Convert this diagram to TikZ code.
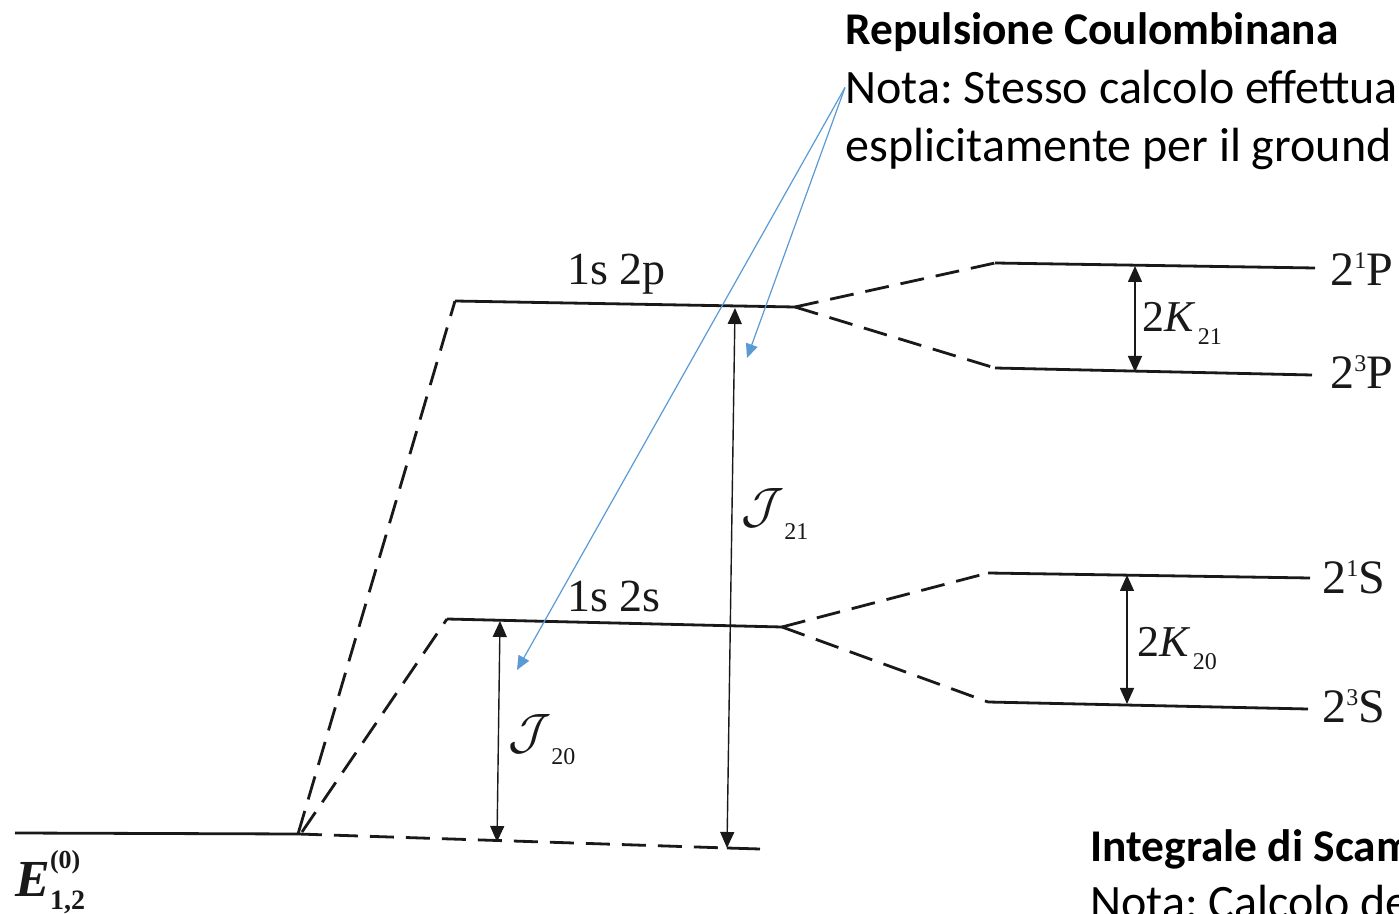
\documentclass[tikz,border=0pt]{standalone}
\usepackage{fontspec}
\setmainfont{Carlito}
\newfontfamily\tms{Liberation Serif}
\usetikzlibrary{arrows.meta}
\definecolor{calloutblue}{RGB}{91,155,213}
\definecolor{ink}{RGB}{25,25,25}
\frenchspacing
\begin{document}
\begin{tikzpicture}[x=0.5pt,y=-0.5pt,
  lvl/.style={line width=1.4pt,draw=ink},
  dsh/.style={line width=1.4pt,draw=ink,dash pattern=on 12pt off 6pt},
  dbl/.style={line width=0.7pt,draw=ink,{Triangle[width=7pt,length=8pt]}-{Triangle[width=7pt,length=8pt]}},
  callout/.style={draw=calloutblue,line width=0.6pt,-{Triangle[width=6pt,length=7pt]}},
  lab/.style={font=\tms\fontsize{23}{27}\selectfont,inner sep=0pt,anchor=base west,text=ink},
  note/.style={font=\fontsize{24}{28}\selectfont,inner sep=0pt,anchor=base west},
  bnote/.style={note,font=\bfseries\fontsize{22.7}{27}\selectfont},
]
\fill[white] (0,0) rectangle (1399,914);
\useasboundingbox (0,0) rectangle (1399,914);
\clip (0,0) rectangle (1399,914);
% ground level
\coordinate (g0) at (15,833);
\coordinate (gA) at (298,834);
\coordinate (gA2) at (302,832);
\coordinate (g20) at (497,842);
\coordinate (gB) at (727,848);
\coordinate (gE) at (760,849);
\draw[lvl] (g0) -- (gA);
\draw[dsh] (gA) -- (gB);
\draw[lvl] (gB) -- (gE);
% 1s2p
\coordinate (pL) at (455,301);
\coordinate (pR) at (795,307);
\draw[dsh] (gA) -- (pL);
\draw[lvl] (pL) -- (pR);
% 1s2s
\coordinate (sL) at (447,619);
\coordinate (sR) at (782,627);
\draw[dsh] (gA2) -- (sL);
\draw[lvl] (sL) -- (sR);
% P splitting
\coordinate (P1L) at (995,263);
\coordinate (P1R) at (1315,268);
\coordinate (P3L) at (995,368);
\coordinate (P3R) at (1312,375);
\draw[dsh] (pR) -- (P1L);
\draw[lvl] (P1L) -- (P1R);
\draw[dsh] (pR) -- (P3L);
\draw[lvl] (P3L) -- (P3R);
% S splitting
\coordinate (S1L) at (988,573);
\coordinate (S1R) at (1310,578);
\coordinate (S3L) at (988,702);
\coordinate (S3R) at (1308,709);
\draw[dsh] (sR) -- (S1L);
\draw[lvl] (S1L) -- (S1R);
\draw[dsh] (sR) -- (S3L);
\draw[lvl] (S3L) -- (S3R);
% arrows
\coordinate (j21t) at (735,308);
\coordinate (j20t) at (500,621);
\coordinate (k21t) at (1135,266);
\coordinate (k21b) at (1135,372);
\coordinate (k20t) at (1127,575);
\coordinate (k20b) at (1127,704);
\draw[dbl] (j21t) -- (gB);
\draw[dbl] (j20t) -- (g20);
\draw[dbl] (k21t) -- (k21b);
\draw[dbl] (k20t) -- (k20b);
% labels
\node[lab] (l2p) at (567,285) {1s 2p};
\node[lab] (l2s) at (567,612) {1s 2s};
\node[lab,font=\tms\fontsize{24}{28}\selectfont] (t1P) at (1330,286) {2\raisebox{0.8ex}{\fontsize{12}{12}\selectfont 1}P};
\node[lab,font=\tms\fontsize{24}{28}\selectfont] (t3P) at (1330,389) {2\raisebox{0.8ex}{\fontsize{12}{12}\selectfont 3}P};
\node[lab,font=\tms\fontsize{24}{28}\selectfont] (t1S) at (1322,594) {2\raisebox{0.8ex}{\fontsize{12}{12}\selectfont 1}S};
\node[lab,font=\tms\fontsize{24}{28}\selectfont] (t3S) at (1322,723) {2\raisebox{0.8ex}{\fontsize{12}{12}\selectfont 3}S};
\node[lab,font=\tms\fontsize{22}{26}\selectfont] (k21) at (1142,332) {2{\itshape K}\raisebox{-0.6ex}{\fontsize{12}{12}\selectfont\,21}};
\node[lab,font=\tms\fontsize{22}{26}\selectfont] (k20) at (1137,657) {2{\itshape K}\raisebox{-0.6ex}{\fontsize{12}{12}\selectfont\,20}};
\node[lab] (j21) at (741,523) {$\mathcal{J}$\raisebox{-0.8ex}{\fontsize{12}{12}\selectfont 21}};
\node[lab] (j20) at (508,748) {$\mathcal{J}$\raisebox{-0.8ex}{\fontsize{12}{12}\selectfont 20}};
\node[lab,font=\tms\fontsize{26}{30}\selectfont] (E) at (15,896) {{\bfseries\itshape E}\rlap{\raisebox{1.15ex}{\fontsize{13}{13}\selectfont\bfseries (0)}}\raisebox{-0.55ex}{\fontsize{14}{14}\selectfont\bfseries 1,2}};
% notes
\node[bnote] (rep) at (845,45) {Repulsione Coulombinana};
\node[note] (n1) at (845,104) {Nota: Stesso calcolo effettua};
\node[note] (n2) at (845,162) {esplicitamente per il ground};
\node[bnote] (sca) at (1090,861) {Integrale di Scam};
\node[note] (n3) at (1090,918) {Nota: Calcolo de};
% callouts
\coordinate (c1) at (517,670);
\coordinate (c2) at (747,358);
\draw[callout] (n1.west) -- (c1);
\draw[callout] (n1.west) -- (c2);
\end{tikzpicture}
\end{document}
